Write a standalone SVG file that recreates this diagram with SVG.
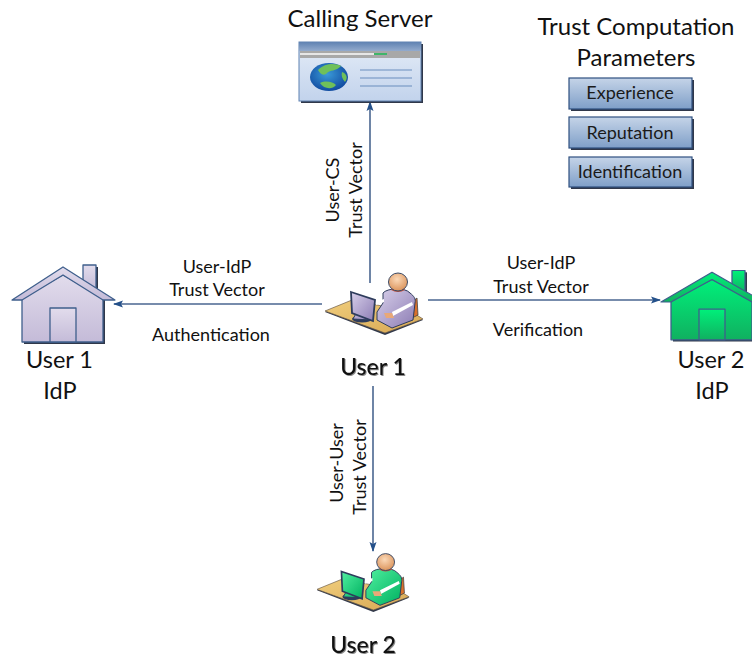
<svg xmlns="http://www.w3.org/2000/svg" xmlns:xlink="http://www.w3.org/1999/xlink" width="752" height="660" viewBox="0 0 752 660">
<style>
text{font-family:"Lato","Open Sans",sans-serif;fill:#111;text-anchor:middle}
.t{font-size:24px}
.t3{font-size:23.500px}
.l{font-size:18px}
.b{font-size:18px;fill:#1a1a1a}
.u{font-size:23px;font-weight:500;fill:#111;filter:drop-shadow(1px 1px 0 #8a8a8a)}
.c{fill:none;stroke:#4a6690;stroke-width:1.6;marker-end:url(#a)}
.box{fill:url(#bx);stroke:#2f5080;stroke-width:1.2}
.sh{fill:#30384a}
.hs{stroke:#3f5f8c;stroke-width:1.3;stroke-linejoin:round}
</style>
<defs>
<marker id="a" markerWidth="10" markerHeight="8" refX="9" refY="4" orient="auto" markerUnits="userSpaceOnUse"><path d="M0,0.500L10,4L0,7.500L2,4Z" fill="#24508a"/></marker>
<linearGradient id="bx" x1="0" y1="0" x2="0" y2="1"><stop offset="0" stop-color="#c5d4e8"/><stop offset="1" stop-color="#7f9fc8"/></linearGradient>
<linearGradient id="win" x1="0" y1="0" x2="0" y2="1"><stop offset="0" stop-color="#e4ecf7"/><stop offset="1" stop-color="#c2d3ec"/></linearGradient>
<linearGradient id="tb" x1="0" y1="0" x2="0" y2="1"><stop offset="0" stop-color="#5f82b2"/><stop offset="1" stop-color="#93abcd"/></linearGradient>
<linearGradient id="hp" x1="0" y1="0" x2="0" y2="1"><stop offset="0" stop-color="#e2dcec"/><stop offset="1" stop-color="#c4bbd8"/></linearGradient>
<linearGradient id="hg" x1="0" y1="0" x2="0" y2="1"><stop offset="0" stop-color="#00f07a"/><stop offset="1" stop-color="#10b060"/></linearGradient>
<linearGradient id="bp" x1="0" y1="0" x2="1" y2="1"><stop offset="0" stop-color="#d8d0ea"/><stop offset="1" stop-color="#8c7cb4"/></linearGradient>
<linearGradient id="bg" x1="0" y1="0" x2="1" y2="1"><stop offset="0" stop-color="#50f0a0"/><stop offset="1" stop-color="#00b060"/></linearGradient>
<radialGradient id="head" cx=".45" cy=".35" r=".7"><stop offset="0" stop-color="#fbd9b8"/><stop offset="1" stop-color="#d98f55"/></radialGradient>
<linearGradient id="desk" x1="0" y1="0" x2="1" y2="1"><stop offset="0" stop-color="#f0cd7c"/><stop offset="1" stop-color="#d8a854"/></linearGradient>
<radialGradient id="gl" cx=".45" cy=".4" r=".7"><stop offset="0" stop-color="#3a9ad8"/><stop offset="1" stop-color="#0b3f98"/></radialGradient>
<g id="person">
<path d="M325,312L352,301L412,313L423,320L385,335Z" fill="#30384a"/>
<path d="M325,311L352,300L412,312L423,319L385,333Z" fill="url(#desk)" stroke="#6a5a4a" stroke-width=".7"/>
<path d="M412,302L417,298L418,315L412,318Z" fill="#d9702a" stroke="#444" stroke-width=".8"/>
<path d="M383,293C387,288 405,287 410,293C414,296 416,299 415,303L413,320L392,328L377,320L377,312L383,303Z" stroke="#2e3c5c" stroke-width="1"/>
<path d="M375,302L384,299L384,302L376,305Z" fill="#fff"/>
<path d="M392,312L412,302L413,305L393,316Z" fill="#fff"/>
<path d="M384,313L392,313L394,318L386,318Z" fill="#e8a878"/>
<path d="M391,290Q398,294 405,290L403,288H393Z" fill="#c0503a"/>
<ellipse cx="398" cy="282" rx="9.500" ry="9" fill="url(#head)" stroke="#3a4a66" stroke-width="1"/>
<ellipse cx="362" cy="319" rx="10" ry="3.500" fill="#2e3c5c"/>
<path d="M360,306L353,319L371,320L366,307Z" stroke="#2e3c5c" stroke-width="1"/>
<path d="M351,292L375,300L373,321L352,313Z" stroke="#2e3c5c" stroke-width="1.800"/>
</g>
<g id="house">
<path d="M85,267H98V292H85Z" class="sh"/>
<path d="M83,265H96V290H83Z" class="hs"/>
<path d="M24,300V344H105V300L65,277Z" class="sh"/>
<path d="M22,298V342H103V298L63,275Z" class="hs"/>
<path d="M50,308H76V342H50Z" class="hs"/>
<path d="M12,300L63,267L115,300H103L63,275L22,300Z" class="hs"/>
</g>
</defs>

<g id="connectors">
<path class="c" d="M370,283V102"/>
<path class="c" d="M322,304H114"/>
<path class="c" d="M428,300H660"/>
<path class="c" d="M373,386V551"/>
</g>

<g id="calling-server">
<text class="t" x="360" y="27">Calling Server</text>
<rect x="301" y="44" width="122" height="59" class="sh"/>
<rect x="299" y="42" width="122" height="59" fill="url(#win)" stroke="#5f82b2" stroke-width="1"/>
<rect x="299" y="42" width="122" height="9" fill="url(#tb)"/>
<rect x="300" y="51" width="120" height="7" fill="#a8a8a8"/>
<rect x="300" y="53" width="74" height="2" fill="#e6e6e6"/>
<rect x="374" y="53" width="13" height="2" fill="#3fb56a"/>
<ellipse cx="329" cy="77" rx="19" ry="14" fill="url(#gl)"/>
<path d="M318,70C325,63 335,63 341,66C336,72 330,69 326,74C322,76 320,73 318,70ZM320,83C326,80 333,82 336,85C332,90 324,89 320,83ZM342,72C347,74 348,78 345,82C342,79 341,75 342,72Z" fill="#6fc05a"/>
<path d="M360,70H412M360,78H412M360,86H412" stroke="#6a8dbd" stroke-width="1.200"/>
</g>

<g id="params-title">
<text class="t" x="636" y="35">Trust Computation</text>
<text class="t" x="636" y="66">Parameters</text>
</g>
<g id="experience"><rect x="571" y="80" width="123" height="31" class="sh"/><rect x="569" y="78" width="123" height="31" class="box"/><text class="b" x="630" y="99">Experience</text></g>
<g id="reputation"><rect x="571" y="119" width="123" height="31" class="sh"/><rect x="569" y="117" width="123" height="31" class="box"/><text class="b" x="630" y="139">Reputation</text></g>
<g id="identification"><rect x="571" y="159" width="123" height="30" class="sh"/><rect x="569" y="157" width="123" height="30" class="box"/><text class="b" x="630" y="178">Identification</text></g>

<g id="user1-idp">
<use xlink:href="#house" href="#house" fill="url(#hp)"/>
<text class="t3" x="59.500" y="368">User 1</text>
<text class="t3" x="60" y="399">IdP</text>
</g>
<g id="user2-idp">
<use xlink:href="#house" href="#house" fill="url(#hg)" transform="translate(649,32) scale(1,.9)"/>
<text class="t3" x="711" y="368">User 2</text>
<text class="t3" x="712" y="399">IdP</text>
</g>
<g id="user1">
<use xlink:href="#person" href="#person" fill="url(#bp)"/>
<text class="u" x="373" y="375">User 1</text>
</g>
<g id="user2">
<use xlink:href="#person" href="#person" fill="url(#bg)" transform="translate(11.500,297) scale(.94,.94)"/>
<text class="u" x="363" y="653">User 2</text>
</g>

<g id="labels">
<text class="l" x="217" y="273">User-IdP</text>
<text class="l" x="217" y="296">Trust Vector</text>
<text class="l" x="211" y="341">Authentication</text>
<text class="l" x="541" y="269">User-IdP</text>
<text class="l" x="541" y="293">Trust Vector</text>
<text class="l" x="538" y="336">Verification</text>
<text class="l" transform="translate(339,190) rotate(-90)">User-CS</text>
<text class="l" transform="translate(362,190) rotate(-90)">Trust Vector</text>
<text class="l" transform="translate(343,463) rotate(-90)">User-User</text>
<text class="l" transform="translate(366,467) rotate(-90)">Trust Vector</text>
</g>
</svg>
